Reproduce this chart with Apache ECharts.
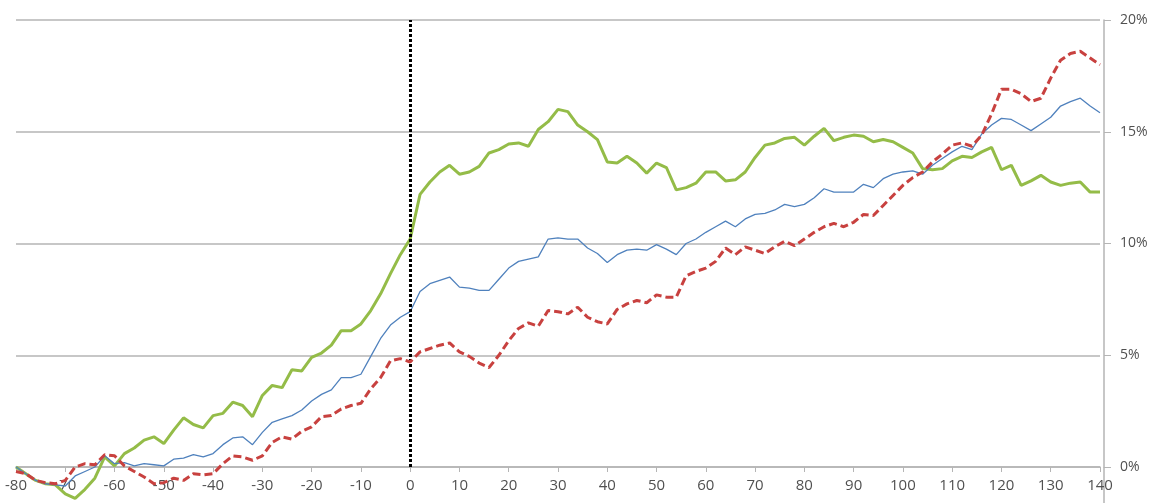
<!DOCTYPE html>
<html>
<head>
<meta charset="utf-8">
<script src="https://cdn.jsdelivr.net/npm/echarts@6/dist/echarts.min.js"></script>
<style>
html,body{margin:0;padding:0;background:#fff;}
#chart{width:1162px;height:503px;}
</style>
</head>
<body>
<div id="chart"></div>
<script>
// x positions (days relative to event)
const xs = [-80,-78,-76,-74,-72,-70,-68,-66,-64,-62,-60,-58,-56,-54,-52,-50,-48,-46,-44,-42,
-40,-38,-36,-34,-32,-30,-28,-26,-24,-22,-20,-18,-16,-14,-12,-10,-8,-6,-4,-2,
0,2,4,6,8,10,12,14,16,18,20,22,24,26,28,30,32,34,36,38,
40,42,44,46,48,50,52,54,56,58,60,62,64,66,68,70,72,74,76,78,
80,82,84,86,88,90,92,94,96,98,100,102,104,106,108,110,112,114,116,118,
120,122,124,126,128,130,132,134,136,138,140];

// green thick solid (%)
const greenSeries = [0.0,-0.3,-0.6,-0.75,-0.8,-1.2,-1.4,-1.0,-0.5,0.45,
0.05,0.6,0.85,1.2,1.35,1.05,1.65,2.2,1.9,1.75,
2.3,2.4,2.9,2.75,2.25,3.2,3.65,3.55,4.35,4.3,
4.9,5.1,5.45,6.1,6.1,6.4,7.0,7.75,8.65,9.5,
10.2,12.2,12.75,13.2,13.5,13.1,13.2,13.45,14.05,14.2,
14.45,14.5,14.35,15.1,15.45,16.0,15.9,15.3,15.0,14.65,
13.65,13.6,13.9,13.6,13.15,13.6,13.4,12.4,12.5,12.7,
13.2,13.2,12.8,12.85,13.2,13.85,14.4,14.5,14.7,14.75,
14.4,14.8,15.15,14.6,14.75,14.85,14.8,14.55,14.65,14.55,
14.3,14.05,13.35,13.3,13.35,13.7,13.9,13.85,14.1,14.3,
13.3,13.5,12.6,12.8,13.05,12.75,12.6,12.7,12.75,12.3,12.3];

// blue thin solid (%)
const blueSeries = [0.0,-0.3,-0.6,-0.75,-0.8,-0.85,-0.4,-0.2,0.0,0.5,
0.15,0.2,0.05,0.15,0.1,0.05,0.35,0.4,0.55,0.45,
0.6,1.0,1.3,1.35,1.0,1.55,2.0,2.15,2.3,2.55,
2.95,3.25,3.45,4.0,4.0,4.15,4.95,5.75,6.35,6.7,
6.95,7.85,8.2,8.35,8.5,8.05,8.0,7.9,7.9,8.4,
8.9,9.2,9.3,9.4,10.2,10.25,10.2,10.2,9.8,9.55,
9.15,9.5,9.7,9.75,9.7,9.95,9.75,9.5,10.0,10.2,
10.5,10.75,11.0,10.75,11.1,11.3,11.35,11.5,11.75,11.65,
11.75,12.05,12.45,12.3,12.3,12.3,12.65,12.5,12.9,13.1,
13.2,13.25,13.1,13.5,13.8,14.1,14.35,14.2,14.9,15.3,
15.6,15.55,15.3,15.05,15.35,15.65,16.15,16.35,16.5,16.15,15.85];

// red dashed (%)
const redSeries = [-0.2,-0.3,-0.6,-0.7,-0.75,-0.6,0.0,0.15,0.1,0.55,
0.5,0.05,-0.2,-0.45,-0.75,-0.7,-0.5,-0.6,-0.3,-0.35,
-0.3,0.15,0.5,0.45,0.3,0.5,1.1,1.35,1.25,1.6,
1.8,2.25,2.3,2.6,2.75,2.85,3.5,4.0,4.75,4.85,
4.7,5.15,5.3,5.45,5.55,5.15,4.95,4.65,4.45,5.0,
5.65,6.2,6.45,6.3,7.0,6.95,6.85,7.15,6.7,6.5,
6.4,7.05,7.3,7.45,7.35,7.7,7.6,7.6,8.55,8.75,
8.9,9.2,9.8,9.5,9.85,9.7,9.55,9.85,10.1,9.9,
10.2,10.5,10.75,10.9,10.75,10.95,11.3,11.25,11.7,12.15,
12.6,12.95,13.2,13.65,14.0,14.4,14.5,14.35,14.85,15.8,
16.9,16.9,16.7,16.35,16.5,17.4,18.2,18.5,18.6,18.3,18.0];

const xMin = -80, xMax = 140, xStep = 10;
const yTicks = [0, 5, 10, 15, 20];
const eventX = 0;

function pairs(vals){ return xs.map((x,i)=>[x, vals[i]]); }

const gridColor = '#b5b5b5';
const chart = echarts.init(document.getElementById('chart'));
chart.setOption({
  animation: false,
  backgroundColor: '#ffffff',
  grid: { left: 16, right: 62, top: 20, bottom: 36, containLabel: false },
  xAxis: {
    type: 'value', min: xMin, max: xMax, interval: xStep,
    axisLine: { show: true, onZero: true, lineStyle: { color: gridColor, width: 1.5 } },
    axisTick: { show: true, length: 5, lineStyle: { color: gridColor } },
    axisLabel: { color: '#505050', fontSize: 15, fontFamily: 'Open Sans', margin: 11 },
    splitLine: { show: false }
  },
  yAxis: {
    type: 'value', position: 'right', offset: 4,
    min: yTicks[0], max: yTicks[yTicks.length-1], interval: 5,
    axisLine: { show: true, onZero: false, lineStyle: { color: gridColor, width: 1.5 } },
    axisTick: { show: true, length: 7, lineStyle: { color: gridColor } },
    axisLabel: { color: '#505050', fontSize: 14, fontFamily: 'Open Sans', margin: 16, formatter: '{value}%' },
    splitLine: { show: true, lineStyle: { color: gridColor, width: 1.5 } }
  },
  series: [
    { name: 'green', type: 'line', data: pairs(greenSeries), showSymbol: false, clip: false,
      lineStyle: { color: '#94bc48', width: 3 }, itemStyle: { color: '#94bc48' }, z: 3 },
    { name: 'blue', type: 'line', data: pairs(blueSeries), showSymbol: false, clip: false,
      lineStyle: { color: '#4f81bd', width: 1.3 }, itemStyle: { color: '#4f81bd' }, z: 4 },
    { name: 'red', type: 'line', data: pairs(redSeries), showSymbol: false, clip: false,
      lineStyle: { color: '#c8413f', width: 3, type: [8, 4] }, itemStyle: { color: '#c8413f' }, z: 5,
      markLine: {
        silent: true, symbol: ['none','none'], label: { show: false },
        lineStyle: { color: '#000', width: 3, type: [3, 2] },
        data: [{ xAxis: eventX }]
      } }
  ]
});
// extend the right axis line below the plot as in the original
const p = chart.convertToPixel({ gridIndex: 0 }, [xMax, yTicks[0]]);
chart.setOption({
  graphic: [{ type: 'line', shape: { x1: p[0] + 4, y1: p[1], x2: p[0] + 4, y2: 503 },
    style: { stroke: gridColor, lineWidth: 1.5 }, silent: true }]
});
</script>
</body>
</html>
